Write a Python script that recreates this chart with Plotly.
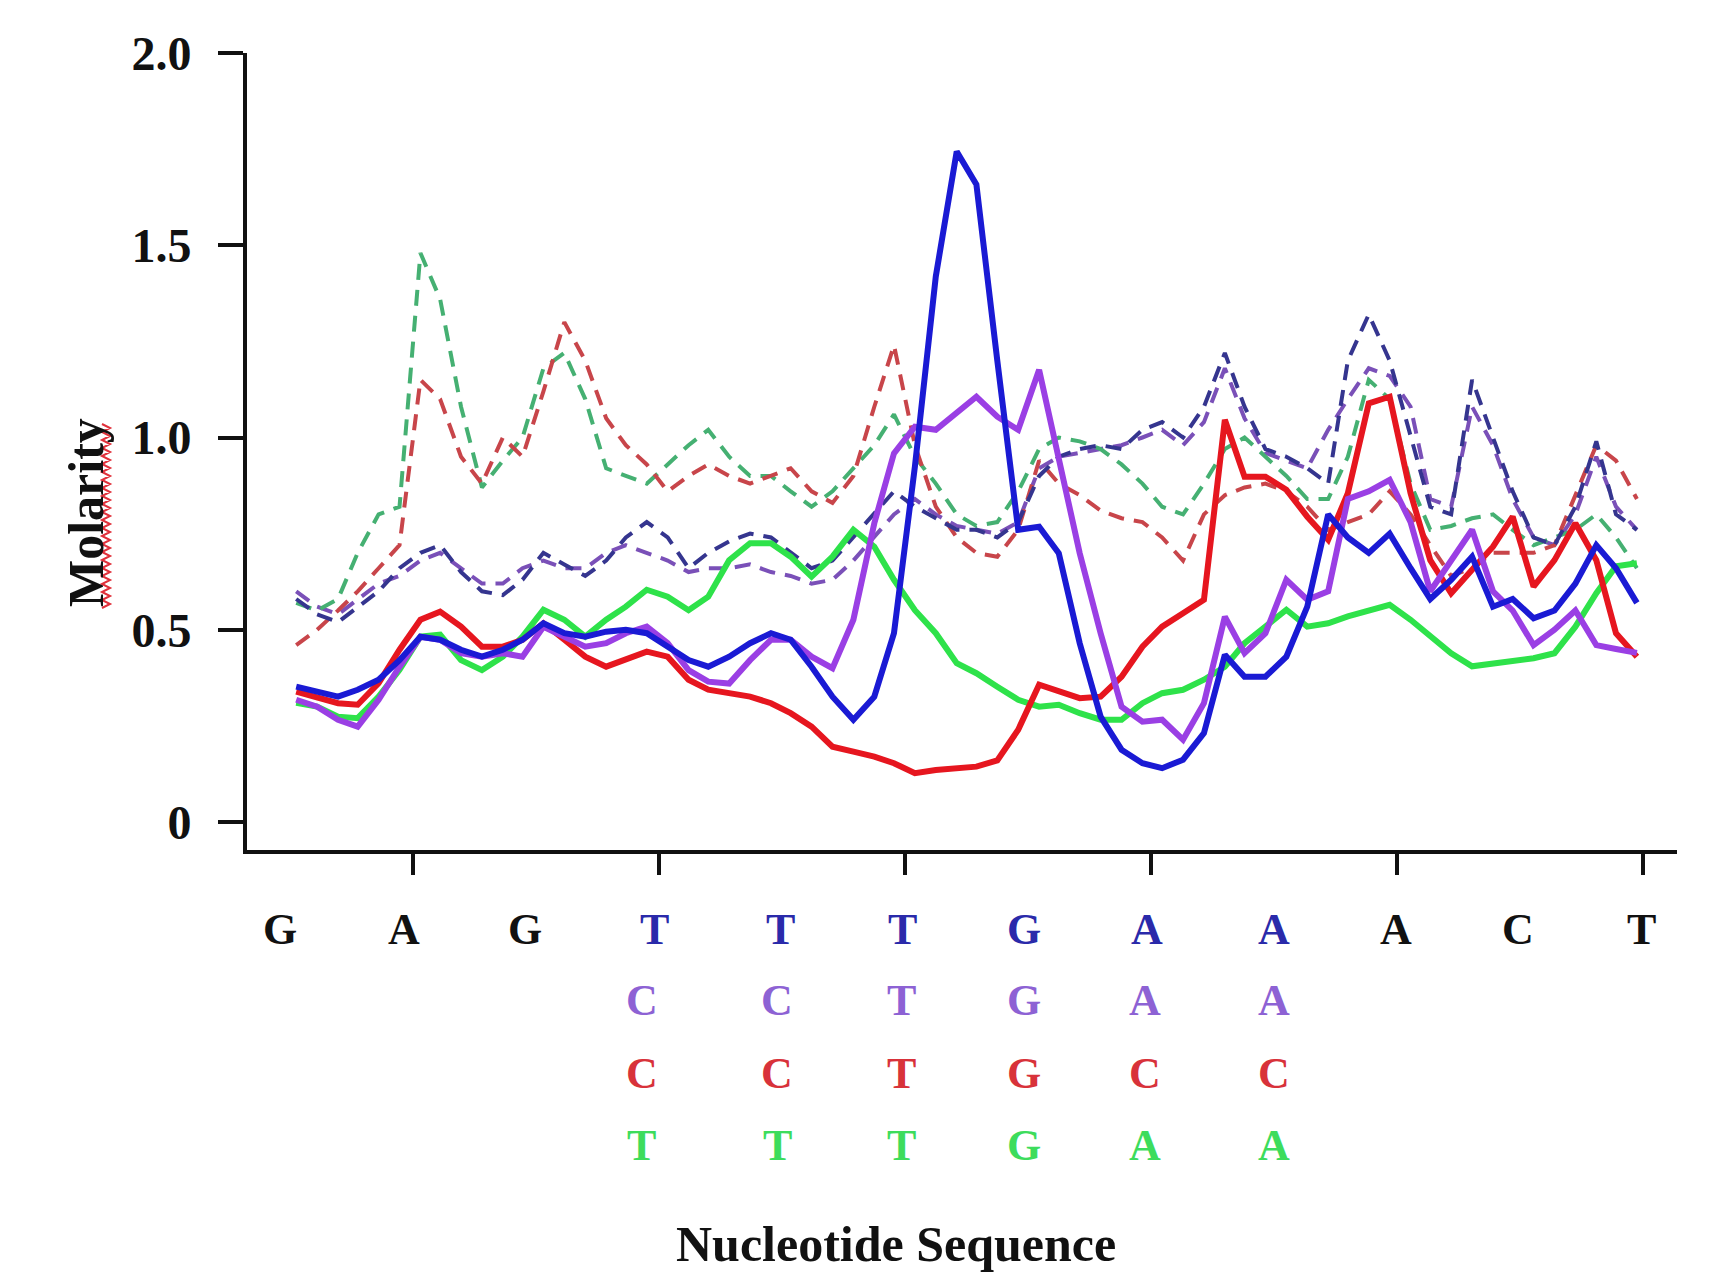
import plotly.graph_objects as go

# x positions (nucleotide index units) of the sampled profile points
X = [1.05,1.22,1.39,1.55,1.72,1.89,2.06,2.22,2.39,2.56,2.73,2.89,3.06,3.23,3.40,3.57,3.73,
     3.90,4.07,4.24,4.40,4.57,4.74,4.91,5.07,5.24,5.41,5.58,5.75,5.91,6.08,6.25,6.42,6.58,
     6.75,6.92,7.09,7.25,7.42,7.59,7.76,7.93,8.09,8.26,8.43,8.60,8.76,8.93,9.10,9.27,
     9.44,9.60,9.77,9.94,10.11,10.27,10.44,10.61,10.78,10.94,11.11,11.28,11.45,11.62,11.78,11.95]

solid_blue = [0.352,0.339,0.326,0.344,0.370,0.421,0.482,0.474,0.448,0.430,0.448,0.474,0.517,0.491,0.482,0.495,0.500,
              0.491,0.456,0.421,0.404,0.430,0.465,0.491,0.474,0.404,0.326,0.266,0.326,0.491,0.924,1.419,1.744,1.658,
              1.200,0.760,0.768,0.699,0.465,0.274,0.188,0.153,0.140,0.162,0.231,0.435,0.378,0.378,0.430,0.560,
              0.800,0.740,0.700,0.750,0.660,0.580,0.630,0.690,0.560,0.580,0.530,0.550,0.620,0.720,0.660,0.570]

solid_purple = [0.318,0.300,0.266,0.248,0.318,0.404,0.482,0.474,0.439,0.430,0.439,0.430,0.508,0.482,0.456,0.465,0.491,
                0.508,0.465,0.395,0.365,0.360,0.421,0.474,0.474,0.430,0.400,0.526,0.777,0.959,1.028,1.020,1.063,1.106,
                1.054,1.020,1.176,0.942,0.699,0.491,0.300,0.261,0.266,0.214,0.309,0.534,0.439,0.491,0.630,0.578,
                0.600,0.840,0.860,0.890,0.780,0.600,0.680,0.760,0.600,0.550,0.460,0.500,0.550,0.460,0.450,0.440]

solid_red = [0.339,0.326,0.309,0.305,0.361,0.448,0.526,0.547,0.508,0.456,0.456,0.474,0.517,0.474,0.430,0.404,0.421,
             0.443,0.430,0.370,0.344,0.335,0.326,0.309,0.283,0.248,0.196,0.183,0.170,0.153,0.127,0.135,0.140,0.144,
             0.160,0.240,0.357,0.339,0.322,0.326,0.378,0.456,0.508,0.543,0.578,1.046,0.898,0.898,0.864,0.794,
             0.734,0.855,1.089,1.106,0.855,0.681,0.595,0.656,0.716,0.794,0.612,0.681,0.777,0.681,0.491,0.430]

solid_green = [0.310,0.300,0.274,0.270,0.326,0.396,0.482,0.487,0.421,0.395,0.430,0.482,0.552,0.526,0.482,0.526,0.560,
               0.604,0.586,0.551,0.586,0.681,0.725,0.725,0.690,0.638,0.690,0.760,0.716,0.630,0.551,0.491,0.413,0.387,
               0.352,0.318,0.300,0.305,0.283,0.266,0.266,0.309,0.335,0.344,0.370,0.404,0.465,0.508,0.552,0.508,
               0.517,0.535,0.551,0.565,0.526,0.482,0.439,0.405,0.413,0.421,0.426,0.439,0.508,0.595,0.665,0.673]

dashed_blue = [0.58,0.54,0.52,0.56,0.60,0.66,0.70,0.72,0.65,0.60,0.59,0.63,0.70,0.67,0.64,0.68,0.74,
               0.78,0.74,0.66,0.70,0.73,0.75,0.74,0.70,0.66,0.68,0.74,0.80,0.86,0.82,0.79,0.76,0.76,
               0.74,0.78,0.90,0.95,0.97,0.98,0.97,1.02,1.04,1.00,1.08,1.22,1.08,0.97,0.95,0.92,
               0.88,1.20,1.32,1.20,1.00,0.82,0.80,1.15,1.00,0.86,0.74,0.72,0.82,0.99,0.80,0.76]

dashed_purple = [0.60,0.56,0.54,0.58,0.62,0.64,0.68,0.70,0.66,0.62,0.62,0.66,0.68,0.66,0.66,0.70,0.72,
                 0.70,0.68,0.65,0.66,0.66,0.67,0.65,0.64,0.62,0.63,0.68,0.74,0.80,0.84,0.80,0.77,0.76,
                 0.75,0.78,0.92,0.95,0.96,0.97,0.98,1.00,1.02,0.98,1.04,1.18,1.05,0.96,0.94,0.92,
                 1.02,1.10,1.18,1.16,1.08,0.84,0.82,1.08,0.98,0.84,0.74,0.72,0.80,0.95,0.82,0.76]

dashed_red = [0.46,0.50,0.55,0.60,0.66,0.72,1.15,1.10,0.95,0.88,1.00,0.95,1.12,1.30,1.20,1.05,0.98,
              0.93,0.86,0.90,0.93,0.90,0.88,0.90,0.92,0.86,0.83,0.90,1.08,1.24,0.98,0.82,0.74,0.70,
              0.69,0.76,0.94,0.88,0.85,0.81,0.79,0.78,0.74,0.68,0.80,0.85,0.87,0.88,0.86,0.82,
              0.76,0.78,0.80,0.86,0.80,0.72,0.64,0.66,0.70,0.70,0.70,0.72,0.85,0.98,0.94,0.84]

dashed_green = [0.57,0.55,0.58,0.70,0.80,0.82,1.48,1.36,1.08,0.87,0.94,1.00,1.18,1.22,1.10,0.92,0.90,
                0.88,0.93,0.98,1.02,0.95,0.90,0.90,0.86,0.82,0.86,0.92,0.98,1.06,0.95,0.88,0.80,0.77,
                0.78,0.86,0.97,1.00,0.99,0.97,0.93,0.88,0.82,0.80,0.88,0.97,1.00,0.95,0.90,0.84,
                0.84,0.95,1.15,1.10,0.88,0.76,0.77,0.79,0.80,0.76,0.72,0.74,0.76,0.80,0.74,0.66]

# sequence labels
seq_top = ["G", "A", "G", "T", "T", "T", "G", "A", "A", "A", "C", "T"]
var_purple = ["C", "C", "T", "G", "A", "A"]
var_red = ["C", "C", "T", "G", "C", "C"]
var_green = ["T", "T", "T", "G", "A", "A"]
y_ticks = [0, 0.5, 1.0, 1.5, 2.0]
y_tick_text = ["0", "0.5", "1.0", "1.5", "2.0"]
x_ticks = [2, 4, 6, 8, 10, 12]

# label placement (layout, in nucleotide index units)
top_label_x = [0.92, 1.93, 2.91, 3.96, 4.99, 5.98, 6.97, 7.97, 9.0, 9.99, 10.98, 11.99]
var_label_x = [3.86, 4.96, 5.97, 6.97, 7.95, 9.0]

FONT = "Liberation Serif, Times New Roman, serif"

C_BLUE = "#1a1ad4"
C_PURPLE = "#9a3fe4"
C_RED = "#e6161f"
C_GREEN = "#2ee24a"
D_BLUE = "#35358f"
D_PURPLE = "#7a50b8"
D_RED = "#c8454a"
D_GREEN = "#45b072"

fig = go.Figure()
dash_pat = "16px,10px"
for ys, col in [(dashed_purple, D_PURPLE), (dashed_green, D_GREEN),
                (dashed_red, D_RED), (dashed_blue, D_BLUE)]:
    fig.add_trace(go.Scatter(x=X, y=ys, mode="lines",
                             line=dict(color=col, width=4, dash=dash_pat),
                             showlegend=False, hoverinfo="skip"))
for ys, col in [(solid_green, C_GREEN), (solid_red, C_RED),
                (solid_purple, C_PURPLE), (solid_blue, C_BLUE)]:
    fig.add_trace(go.Scatter(x=X, y=ys, mode="lines",
                             line=dict(color=col, width=6),
                             showlegend=False, hoverinfo="skip"))

# plot area in page pixels: x 247..1677, y 53..850
def px_x(p):
    return (p - 247) / 1430.0

def px_y(p):
    return (850 - p) / 797.0

annotations = []
top_colors = ["#111111"] * 3 + ["#2a2aaa"] * 6 + ["#111111"] * 3
row_y = [px_y(929), px_y(1000), px_y(1073), px_y(1145)]
for p, t, c in zip(top_label_x, seq_top, top_colors):
    annotations.append(dict(x=p, y=row_y[0], xref="x", yref="paper", text=t,
                            showarrow=False, xanchor="center", yanchor="middle",
                            font=dict(family=FONT, size=44, color=c, weight="bold")))
for row, (letters, col) in enumerate([(var_purple, "#8d62d4"), (var_red, "#d8323a"),
                                      (var_green, "#3ddc5c")]):
    for p, t in zip(var_label_x, letters):
        annotations.append(dict(x=p, y=row_y[row + 1], xref="x", yref="paper", text=t,
                                showarrow=False, xanchor="center", yanchor="middle",
                                font=dict(family=FONT, size=44, color=col, weight="bold")))

annotations.append(dict(x=px_x(896), y=px_y(1244), xref="paper", yref="paper",
                        text="Nucleotide Sequence", showarrow=False,
                        xanchor="center", yanchor="middle",
                        font=dict(family=FONT, size=50, color="#111111", weight="bold")))
annotations.append(dict(x=px_x(86), y=px_y(513), xref="paper", yref="paper",
                        text="Molarity", showarrow=False, textangle=-90,
                        xanchor="center", yanchor="middle",
                        font=dict(family=FONT, size=50, color="#111111", weight="bold")))

# red wavy spell-check underline beside the rotated "Molarity"
pts = []
yy = 424
k = 0
while yy <= 608:
    xx = 102 if k % 2 == 0 else 110
    pts.append((px_x(xx), px_y(yy)))
    yy += 4
    k += 1
path = "M " + " L ".join(f"{a:.5f},{b:.5f}" for a, b in pts)
shapes = [dict(type="path", path=path, xref="paper", yref="paper",
               line=dict(color="#e0303a", width=2))]

fig.update_layout(
    width=1714, height=1266,
    margin=dict(l=239, r=45, t=45, b=424),
    paper_bgcolor="white", plot_bgcolor="white",
    annotations=annotations,
    shapes=shapes,
    xaxis=dict(range=[0.65, 12.276], showgrid=False, zeroline=False,
               showline=True, linecolor="#111111", linewidth=4,
               tickmode="array", tickvals=x_ticks, showticklabels=False,
               ticks="outside", ticklen=21, tickwidth=4, tickcolor="#111111"),
    yaxis=dict(range=[-0.0728, 2.0], showgrid=False, zeroline=False,
               showline=True, linecolor="#111111", linewidth=4,
               tickmode="array", tickvals=y_ticks, ticktext=y_tick_text,
               ticks="outside", ticklen=25, tickwidth=4, tickcolor="#111111",
               ticklabelstandoff=17,
               tickfont=dict(family=FONT, size=48, color="#111111", weight="bold")),
)

fig.write_html("out.html")
